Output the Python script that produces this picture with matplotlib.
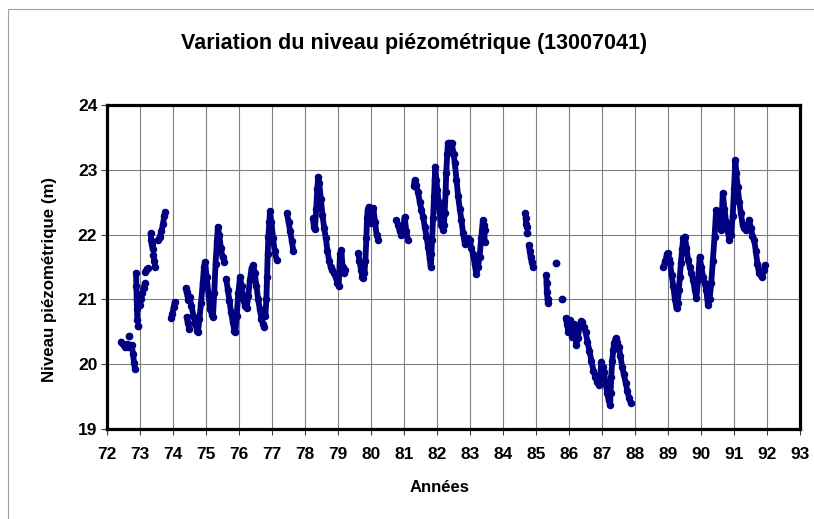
import numpy as np
import matplotlib
matplotlib.use("Agg")
import matplotlib.pyplot as plt
from matplotlib.patches import Rectangle

nan = np.nan

# piezometric level (m), nan = gap in the record
annees_72_78 = [
    72.43, 72.48, 72.55, 72.60, 72.65, 72.70, 72.75, 72.79, 72.82, 72.85, nan,
    72.88, 72.89, 72.90, 72.91, 72.92, nan,
    72.99, 73.03, 73.07, 73.11, 73.15, nan,
    73.16, 73.20, 73.25, nan,
    73.32, 73.34, 73.36, 73.38, nan,
    73.40, 73.43, 73.46, nan,
    73.55, 73.60, 73.65, 73.70, 73.73, 73.76, nan,
    73.95, 73.98, 74.02, 74.05, nan,
    74.38, 74.41, 74.44, 74.46, nan,
    74.41, 74.45, 74.49, nan,
    74.50, 74.56, 74.62, 74.68, 74.73, 74.76, 74.80, 74.85, 74.90, 74.94,
    74.97, 75.02, 75.08, 75.13, 75.18, 75.21, 75.25, 75.29, 75.33, 75.36,
    75.40, 75.45, 75.50, 75.56, nan,
    75.61, 75.66, 75.71, 75.76, 75.81, 75.86, 75.89, 75.93, 75.98, 76.03,
    76.08, 76.13, 76.18, 76.23, 76.28, 76.33, 76.38, 76.43, 76.48, 76.53,
    76.58, 76.63, 76.68, 76.73, 76.77, nan,
    76.80, 76.83, 76.85, 76.87, 76.89, 76.92, 76.94, 76.98, 77.03, 77.08,
    77.14, nan,
    77.45, 77.50, 77.55, 77.60, 77.65,
]
niveau_72_78 = [
    20.35, 20.31, 20.27, 20.31, 20.26, 20.30, 20.29, 20.15, 20.02, 19.92, nan,
    21.41, 21.20, 21.00, 20.85, 20.68, nan,
    20.92, 21.00, 21.10, 21.18, 21.25, nan,
    21.43, 21.47, 21.48, nan,
    22.02, 21.92, 21.85, 21.78, nan,
    21.68, 21.60, 21.50, nan,
    21.91, 21.97, 22.05, 22.17, 22.28, 22.35, nan,
    20.72, 20.78, 20.88, 20.96, nan,
    21.17, 21.12, 21.05, 20.99, nan,
    20.73, 20.63, 20.55, nan,
    21.04, 20.90, 20.75, 20.62, 20.52, 20.50, 20.70, 20.95, 21.25, 21.50,
    21.58, 21.35, 21.05, 20.85, 20.76, 20.73, 21.10, 21.55, 21.90, 22.12,
    22.00, 21.80, 21.65, 21.58, nan,
    21.32, 21.15, 20.98, 20.80, 20.65, 20.52, 20.50, 20.75, 21.10, 21.35,
    21.20, 21.00, 20.90, 20.86, 21.05, 21.30, 21.48, 21.53, 21.40, 21.20,
    21.00, 20.85, 20.70, 20.62, 20.58, nan,
    20.75, 21.00, 21.35, 21.70, 21.97, 22.20, 22.36, 22.20, 21.95, 21.75,
    21.61, nan,
    22.33, 22.20, 22.05, 21.90, 21.74,
]

annees_78_84 = [
    78.24, 78.27, 78.30, 78.34, 78.37, 78.40, 78.43, 78.48, 78.53, 78.58,
    78.63, 78.68, 78.73, 78.78, 78.83, 78.88, 78.93, 78.98, 79.02, 79.06,
    79.10, 79.14, 79.18, 79.21, nan,
    79.61, 79.65, 79.70, 79.74, 79.77, 79.80, 79.83, 79.86, 79.88, 79.90,
    79.93, 79.96, 79.99, 80.03, 80.07, 80.12, 80.17, 80.22, nan,
    80.77, 80.82, 80.87, 80.92, 80.97, 81.02, 81.07, 81.12, nan,
    81.30, 81.32, 81.37, 81.42, 81.48, 81.53, 81.58, 81.63, 81.68, 81.73,
    81.78, 81.81, 81.83, 81.85, 81.88, 81.91, 81.93, 81.95, 81.98, 82.01,
    82.05, 82.08, 82.13, 82.18, 82.21, 82.23, 82.26, 82.28, 82.31, 82.33,
    82.37, 82.41, 82.45, 82.50, 82.54, 82.59, 82.64, 82.69, 82.74, 82.79,
    82.84, 82.89, 82.94, 82.99, 83.04, 83.09, 83.14, 83.19, 83.24, 83.29,
    83.34, 83.39, 83.42, 83.44, 83.44,
]
niveau_78_84 = [
    22.25, 22.12, 22.08, 22.40, 22.70, 22.89, 22.80, 22.55, 22.30, 22.10,
    21.95, 21.75, 21.60, 21.50, 21.45, 21.40, 21.35, 21.25, 21.20, 21.70,
    21.76, 21.50, 21.40, 21.45, nan,
    21.71, 21.60, 21.45, 21.35, 21.33, 21.40, 21.60, 21.95, 22.25, 22.38,
    22.43, 22.30, 22.18, 22.30, 22.41, 22.20, 22.00, 21.92, nan,
    22.22, 22.15, 22.05, 22.00, 22.10, 22.27, 22.05, 21.91, nan,
    22.75, 22.84, 22.76, 22.66, 22.50, 22.38, 22.27, 22.12, 21.97, 21.81,
    21.62, 21.50, 21.70, 21.91, 22.25, 22.59, 22.85, 23.05, 22.85, 22.69,
    22.50, 22.33, 22.15, 22.07, 22.15, 22.33, 22.65, 22.95, 23.25, 23.41,
    23.41, 23.41, 23.41, 23.25, 23.10, 22.85, 22.59, 22.40, 22.22, 22.02,
    21.86, 21.88, 21.94, 21.91, 21.80, 21.70, 21.55, 21.39, 21.50, 21.65,
    21.95, 22.22, 22.15, 22.07, 21.88,
]

annees_84_88 = [
    84.68, 84.69, 84.70, 84.72, nan,
    84.78, 84.81, 84.84, 84.87, 84.91, nan,
    85.31, 85.32, 85.33, 85.35, 85.36, nan,
    85.90, 85.94, 85.98, 86.02, 86.06, 86.10, 86.14, 86.18, 86.22, 86.27,
    86.32, 86.36, 86.40, 86.45, 86.50, 86.56, 86.62, 86.68, 86.74, 86.80,
    86.86, 86.91, 86.95, 86.98, 87.02, 87.06, 87.11, 87.16, 87.20, 87.24,
    87.26, 87.28, 87.31, 87.34, 87.37, 87.41, 87.46, 87.51, 87.56, 87.61,
    87.66, 87.72, 87.77, 87.82, 87.87,
]
niveau_84_88 = [
    22.33, 22.25, 22.17, 22.12, nan,
    21.84, 21.75, 21.65, 21.57, 21.50, nan,
    21.38, 21.25, 21.12, 21.00, 20.94, nan,
    20.71, 20.62, 20.50, 20.68, 20.55, 20.42, 20.62, 20.45, 20.30, 20.40,
    20.60, 20.66, 20.65, 20.58, 20.50, 20.35, 20.20, 20.05, 19.90, 19.80,
    19.72, 19.68, 19.85, 20.04, 19.95, 19.88, 19.70, 19.55, 19.45, 19.37,
    19.55, 19.81, 20.05, 20.22, 20.33, 20.40, 20.35, 20.27, 20.12, 19.96,
    19.85, 19.71, 19.58, 19.48, 19.40,
]

annees_89_92 = [
    88.86, 88.92, 88.97, 88.99, 89.03, 89.06, 89.11, 89.16, 89.21, 89.26,
    89.30, 89.33, 89.36, 89.39, 89.43, 89.46, 89.51, 89.56, 89.61, 89.66,
    89.71, 89.76, 89.81, 89.86, 89.91, 89.96, 90.01, 90.06, 90.11, 90.16,
    90.21, 90.26, 90.31, 90.36, 90.41, 90.46, 90.51, 90.56, 90.61, 90.66,
    90.71, 90.76, 90.81, 90.86, 90.91, 90.96, 91.00, 91.04, 91.07, 91.11,
    91.16, 91.21, 91.26, 91.31, 91.36, 91.41, 91.46, 91.51, 91.56, 91.61,
    91.66, 91.71, 91.76, 91.81, 91.86, 91.90, 91.93,
]
niveau_89_92 = [
    21.50, 21.60, 21.70, 21.71, 21.62, 21.56, 21.38, 21.20, 21.00, 20.86,
    20.95, 21.15, 21.35, 21.56, 21.78, 21.94, 21.97, 21.80, 21.61, 21.50,
    21.40, 21.30, 21.15, 21.02, 21.30, 21.66, 21.50, 21.35, 21.25, 21.15,
    20.91, 21.00, 21.25, 21.60, 21.97, 22.38, 22.35, 22.28, 22.07, 22.64,
    22.40, 22.20, 22.05, 21.92, 22.00, 22.28, 22.70, 23.15, 22.95, 22.74,
    22.50, 22.33, 22.15, 22.10, 22.07, 22.15, 22.23, 22.10, 21.98, 21.92,
    21.75, 21.55, 21.40, 21.38, 21.35, 21.45, 21.53,
]

# isolated readings
annees_isoles = [72.67, 72.95, 84.73, 85.62, 85.80]
niveau_isoles = [20.44, 20.59, 22.02, 21.56, 21.00]

couleur = "#000080"

fig = plt.figure(figsize=(8.14, 5.19), dpi=100)
ax = fig.add_axes([107 / 814, 1 - 429 / 519, 693 / 814, 324 / 519])

for xs, ys in [(annees_72_78, niveau_72_78), (annees_78_84, niveau_78_84),
               (annees_84_88, niveau_84_88), (annees_89_92, niveau_89_92)]:
    ax.plot(xs, ys, color=couleur, linewidth=4.2, marker="o", markersize=4.4,
            solid_capstyle="round", solid_joinstyle="round", zorder=3)
ax.plot(annees_isoles, niveau_isoles, linestyle="none", marker="o",
        markersize=4.6, color=couleur, zorder=3)

ax.set_xlim(72, 93)
ax.set_ylim(19, 24)
ax.set_xticks(range(72, 94))
ax.set_yticks(range(19, 25))
ax.grid(True, color="#808080", linewidth=0.8)
ax.set_axisbelow(True)
for s in ax.spines.values():
    s.set_linewidth(2.3)
    s.set_color("black")
ax.tick_params(axis="both", direction="out", length=4, width=0.8,
               color="#404040", labelsize=12.5)
ax.tick_params(axis="x", pad=9)
ax.tick_params(axis="y", pad=3)
for lab in ax.get_xticklabels() + ax.get_yticklabels():
    lab.set_fontfamily("Liberation Sans")
    lab.set_fontweight("bold")

fig.text(414 / 814, 1 - 43 / 519, "Variation du niveau piézométrique (13007041)",
         ha="center", va="center", fontsize=15.5, fontweight="bold",
         family="Liberation Sans")
fig.text(50 / 814, 1 - 280 / 519, "Niveau piézométrique (m)", rotation=90,
         ha="center", va="center", fontsize=12.2, fontweight="bold",
         family="Liberation Sans")
fig.text(440 / 814, 1 - 487 / 519, "Années", ha="center", va="center",
         fontsize=12, fontweight="bold", family="Liberation Sans")

# chart-area border (only left and top edges visible)
fig.patches.append(Rectangle((8 / 814, -0.1), 1.2, 1.1 - 9 / 519,
                             transform=fig.transFigure, fill=False,
                             edgecolor="#a0a0a0", linewidth=0.8))

fig.savefig("out.png", dpi=100)
